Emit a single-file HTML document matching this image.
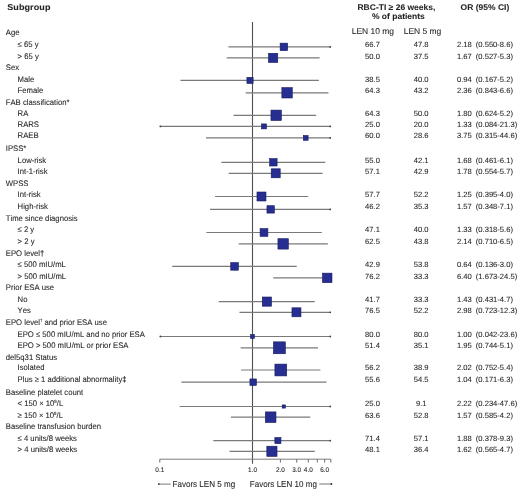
<!DOCTYPE html><html><head><meta charset="utf-8"><style>
html,body{margin:0;padding:0;background:#fff;}
svg{display:block;will-change:transform;}
text{text-rendering:geometricPrecision;font-kerning:none;font-family:"Liberation Sans",sans-serif;fill:#231f20;stroke:#231f20;stroke-width:0.08px;}
.l{font-size:7.7px;} .n{font-size:7.6px;} .h{font-size:8.5px;font-weight:bold;} .c{font-size:8.45px;} .t{font-size:6.4px;} .f{font-size:8.05px;} .sup{font-size:4.3px;} .dg{font-weight:bold;} .t{stroke-width:0.1px;}
</style></head><body>
<svg width="520" height="491" viewBox="0 0 520 491">
<text class="h" transform="translate(7.20 9.70) scale(1 0.95)" style="font-size:9px;letter-spacing:0.1px">Subgroup</text>
<text class="h" transform="translate(396.40 10.00) scale(1 0.97)" text-anchor="middle">RBC-TI ≥ 26 weeks,</text>
<text class="h" transform="translate(398.40 18.70) scale(1 0.97)" text-anchor="middle">% of patients</text>
<text class="h" transform="translate(484.90 10.40) scale(1 0.97)" text-anchor="middle">OR (95% CI)</text>
<text class="c" transform="translate(372.90 34.40) scale(1 1.0)" text-anchor="middle">LEN 10 mg</text>
<text class="c" transform="translate(422.50 34.40) scale(1 1.0)" text-anchor="middle">LEN 5 mg</text>
<line x1="252.5" y1="22" x2="252.5" y2="463.8" stroke="#505050" stroke-width="1.1"/>
<line x1="159.8" y1="459.2" x2="330.8405883093216" y2="459.2" stroke="#7c7c7c" stroke-width="1"/>
<line x1="159.80" y1="459.2" x2="159.80" y2="462.6" stroke="#6e6e6e" stroke-width="1"/>
<line x1="280.41" y1="459.2" x2="280.41" y2="462.6" stroke="#6e6e6e" stroke-width="1"/>
<line x1="296.73" y1="459.2" x2="296.73" y2="462.6" stroke="#6e6e6e" stroke-width="1"/>
<line x1="308.31" y1="459.2" x2="308.31" y2="462.6" stroke="#6e6e6e" stroke-width="1"/>
<line x1="317.29" y1="459.2" x2="317.29" y2="462.6" stroke="#6e6e6e" stroke-width="1"/>
<line x1="324.63" y1="459.2" x2="324.63" y2="462.6" stroke="#6e6e6e" stroke-width="1"/>
<line x1="330.84" y1="459.2" x2="330.84" y2="462.6" stroke="#6e6e6e" stroke-width="1"/>
<text class="t" transform="translate(159.80 471.90) scale(1 1.05)" text-anchor="middle">0.1</text>
<text class="t" transform="translate(252.50 471.90) scale(1 1.05)" text-anchor="middle">1.0</text>
<text class="t" transform="translate(280.41 471.90) scale(1 1.05)" text-anchor="middle">2.0</text>
<text class="t" transform="translate(296.73 471.90) scale(1 1.05)" text-anchor="middle">3.0</text>
<text class="t" transform="translate(308.31 471.90) scale(1 1.05)" text-anchor="middle">4.0</text>
<text class="t" transform="translate(324.63 471.90) scale(1 1.05)" text-anchor="middle">6.0</text>
<line x1="158.5" y1="484.1" x2="170.7" y2="484.1" stroke="#777" stroke-width="1"/>
<circle cx="158.8" cy="484.1" r="0.9" fill="#333"/>
<text class="f" transform="translate(172.50 486.90) scale(1 1.08)">Favors LEN 5 mg</text>
<text class="f" transform="translate(249.80 486.90) scale(1 1.08)">Favors LEN 10 mg</text>
<line x1="319.2" y1="484" x2="331.6" y2="484" stroke="#777" stroke-width="1"/>
<circle cx="331.4" cy="484" r="0.9" fill="#333"/>
<text class="l" transform="translate(5.80 35.10) scale(1 1.05)">Age</text>
<text class="l" transform="translate(17.60 46.60) scale(1 1.05)">≤ 65 y</text>
<line x1="228.43" y1="46.9" x2="330.84" y2="46.9" stroke="#7a7a7a" stroke-width="1.2"/>
<circle cx="330.24" cy="46.9" r="0.9" fill="#444"/>
<rect x="280.12" y="43.15" width="7.50" height="7.50" fill="#272e92" stroke="#171b5e" stroke-width="0.6"/>
<text class="n" transform="translate(372.50 46.60) scale(1 1.0)" text-anchor="middle">66.7</text>
<text class="n" transform="translate(421.20 46.60) scale(1 1.0)" text-anchor="middle">47.8</text>
<text class="n" transform="translate(457.00 46.60) scale(1 1.0)">2.18</text>
<text class="n" transform="translate(475.80 46.60) scale(1 1.0)">(0.550-8.6)</text>
<text class="l" transform="translate(17.60 58.50) scale(1 1.05)">&gt; 65 y</text>
<line x1="226.71" y1="57.9" x2="319.64" y2="57.9" stroke="#7a7a7a" stroke-width="1.2"/>
<rect x="268.55" y="53.30" width="9.20" height="9.20" fill="#272e92" stroke="#171b5e" stroke-width="0.6"/>
<text class="n" transform="translate(372.50 58.50) scale(1 1.0)" text-anchor="middle">50.0</text>
<text class="n" transform="translate(421.20 58.50) scale(1 1.0)" text-anchor="middle">37.5</text>
<text class="n" transform="translate(457.00 58.50) scale(1 1.0)">1.67</text>
<text class="n" transform="translate(475.80 58.50) scale(1 1.0)">(0.527-5.3)</text>
<text class="l" transform="translate(5.80 69.80) scale(1 1.05)">Sex</text>
<text class="l" transform="translate(17.60 81.60) scale(1 1.05)">Male</text>
<line x1="180.45" y1="80.4" x2="318.87" y2="80.4" stroke="#7a7a7a" stroke-width="1.2"/>
<rect x="246.91" y="77.30" width="6.20" height="6.20" fill="#272e92" stroke="#171b5e" stroke-width="0.6"/>
<text class="n" transform="translate(372.50 81.60) scale(1 1.0)" text-anchor="middle">38.5</text>
<text class="n" transform="translate(421.20 81.60) scale(1 1.0)" text-anchor="middle">40.0</text>
<text class="n" transform="translate(457.00 81.60) scale(1 1.0)">0.94</text>
<text class="n" transform="translate(475.80 81.60) scale(1 1.0)">(0.167-5.2)</text>
<text class="l" transform="translate(17.60 93.20) scale(1 1.05)">Female</text>
<line x1="245.62" y1="92.8" x2="328.47" y2="92.8" stroke="#7a7a7a" stroke-width="1.2"/>
<rect x="281.87" y="87.60" width="10.40" height="10.40" fill="#272e92" stroke="#171b5e" stroke-width="0.6"/>
<text class="n" transform="translate(372.50 93.20) scale(1 1.0)" text-anchor="middle">64.3</text>
<text class="n" transform="translate(421.20 93.20) scale(1 1.0)" text-anchor="middle">43.2</text>
<text class="n" transform="translate(457.00 93.20) scale(1 1.0)">2.36</text>
<text class="n" transform="translate(475.80 93.20) scale(1 1.0)">(0.843-6.6)</text>
<text class="l" transform="translate(5.80 104.60) scale(1 1.05)">FAB classification*</text>
<text class="l" transform="translate(17.60 116.20) scale(1 1.05)">RA</text>
<line x1="233.51" y1="115.3" x2="316.20" y2="115.3" stroke="#7a7a7a" stroke-width="1.2"/>
<rect x="270.96" y="110.10" width="10.40" height="10.40" fill="#272e92" stroke="#171b5e" stroke-width="0.6"/>
<text class="n" transform="translate(372.50 116.20) scale(1 1.0)" text-anchor="middle">64.3</text>
<text class="n" transform="translate(421.20 116.20) scale(1 1.0)" text-anchor="middle">50.0</text>
<text class="n" transform="translate(457.00 116.20) scale(1 1.0)">1.80</text>
<text class="n" transform="translate(475.80 116.20) scale(1 1.0)">(0.624-5.2)</text>
<text class="l" transform="translate(17.60 126.80) scale(1 1.05)">RARS</text>
<line x1="159.80" y1="126.4" x2="330.84" y2="126.4" stroke="#7a7a7a" stroke-width="1.2"/>
<circle cx="160.40" cy="126.4" r="0.9" fill="#444"/>
<circle cx="330.24" cy="126.4" r="0.9" fill="#444"/>
<rect x="261.48" y="123.90" width="5.00" height="5.00" fill="#272e92" stroke="#171b5e" stroke-width="0.6"/>
<text class="n" transform="translate(372.50 126.80) scale(1 1.0)" text-anchor="middle">25.0</text>
<text class="n" transform="translate(421.20 126.80) scale(1 1.0)" text-anchor="middle">20.0</text>
<text class="n" transform="translate(457.00 126.80) scale(1 1.0)">1.33</text>
<text class="n" transform="translate(475.80 126.80) scale(1 1.0)">(0.084-21.3)</text>
<text class="l" transform="translate(17.60 138.30) scale(1 1.05)">RAEB</text>
<line x1="205.99" y1="137.9" x2="330.84" y2="137.9" stroke="#7a7a7a" stroke-width="1.2"/>
<circle cx="330.24" cy="137.9" r="0.9" fill="#444"/>
<rect x="303.31" y="135.50" width="4.80" height="4.80" fill="#272e92" stroke="#171b5e" stroke-width="0.6"/>
<text class="n" transform="translate(372.50 138.30) scale(1 1.0)" text-anchor="middle">60.0</text>
<text class="n" transform="translate(421.20 138.30) scale(1 1.0)" text-anchor="middle">28.6</text>
<text class="n" transform="translate(457.00 138.30) scale(1 1.0)">3.75</text>
<text class="n" transform="translate(475.80 138.30) scale(1 1.0)">(0.315-44.6)</text>
<text class="l" transform="translate(5.80 151.30) scale(1 1.05)">IPSS*</text>
<text class="l" transform="translate(17.60 162.50) scale(1 1.05)">Low-risk</text>
<line x1="221.33" y1="162.3" x2="325.30" y2="162.3" stroke="#7a7a7a" stroke-width="1.2"/>
<rect x="269.69" y="158.60" width="7.40" height="7.40" fill="#272e92" stroke="#171b5e" stroke-width="0.6"/>
<text class="n" transform="translate(372.50 162.50) scale(1 1.0)" text-anchor="middle">55.0</text>
<text class="n" transform="translate(421.20 162.50) scale(1 1.0)" text-anchor="middle">42.1</text>
<text class="n" transform="translate(457.00 162.50) scale(1 1.0)">1.68</text>
<text class="n" transform="translate(475.80 162.50) scale(1 1.0)">(0.461-6.1)</text>
<text class="l" transform="translate(17.60 173.70) scale(1 1.05)">Int-1-risk</text>
<line x1="228.72" y1="173.3" x2="322.57" y2="173.3" stroke="#7a7a7a" stroke-width="1.2"/>
<rect x="271.21" y="168.80" width="9.00" height="9.00" fill="#272e92" stroke="#171b5e" stroke-width="0.6"/>
<text class="n" transform="translate(372.50 173.70) scale(1 1.0)" text-anchor="middle">57.1</text>
<text class="n" transform="translate(421.20 173.70) scale(1 1.0)" text-anchor="middle">42.9</text>
<text class="n" transform="translate(457.00 173.70) scale(1 1.0)">1.78</text>
<text class="n" transform="translate(475.80 173.70) scale(1 1.0)">(0.554-5.7)</text>
<text class="l" transform="translate(5.80 186.00) scale(1 1.05)">WPSS</text>
<text class="l" transform="translate(17.60 196.90) scale(1 1.05)">Int-risk</text>
<line x1="215.10" y1="196.5" x2="308.31" y2="196.5" stroke="#7a7a7a" stroke-width="1.2"/>
<rect x="256.98" y="192.00" width="9.00" height="9.00" fill="#272e92" stroke="#171b5e" stroke-width="0.6"/>
<text class="n" transform="translate(372.50 196.90) scale(1 1.0)" text-anchor="middle">57.7</text>
<text class="n" transform="translate(421.20 196.90) scale(1 1.0)" text-anchor="middle">52.2</text>
<text class="n" transform="translate(457.00 196.90) scale(1 1.0)">1.25</text>
<text class="n" transform="translate(475.80 196.90) scale(1 1.0)">(0.395-4.0)</text>
<text class="l" transform="translate(17.60 209.00) scale(1 1.05)">High-risk</text>
<line x1="210.00" y1="209.4" x2="330.84" y2="209.4" stroke="#7a7a7a" stroke-width="1.2"/>
<circle cx="330.24" cy="209.4" r="0.9" fill="#444"/>
<rect x="266.96" y="205.70" width="7.40" height="7.40" fill="#272e92" stroke="#171b5e" stroke-width="0.6"/>
<text class="n" transform="translate(372.50 209.00) scale(1 1.0)" text-anchor="middle">46.2</text>
<text class="n" transform="translate(421.20 209.00) scale(1 1.0)" text-anchor="middle">35.3</text>
<text class="n" transform="translate(457.00 209.00) scale(1 1.0)">1.57</text>
<text class="n" transform="translate(475.80 209.00) scale(1 1.0)">(0.348-7.1)</text>
<text class="l" transform="translate(5.80 220.60) scale(1 1.05)">Time since diagnosis</text>
<text class="l" transform="translate(17.60 232.20) scale(1 1.05)">≤ 2 y</text>
<line x1="206.37" y1="232.5" x2="321.86" y2="232.5" stroke="#7a7a7a" stroke-width="1.2"/>
<rect x="260.08" y="228.60" width="7.80" height="7.80" fill="#272e92" stroke="#171b5e" stroke-width="0.6"/>
<text class="n" transform="translate(372.50 232.20) scale(1 1.0)" text-anchor="middle">47.1</text>
<text class="n" transform="translate(421.20 232.20) scale(1 1.0)" text-anchor="middle">40.0</text>
<text class="n" transform="translate(457.00 232.20) scale(1 1.0)">1.33</text>
<text class="n" transform="translate(475.80 232.20) scale(1 1.0)">(0.318-5.6)</text>
<text class="l" transform="translate(17.60 243.50) scale(1 1.05)">&gt; 2 y</text>
<line x1="238.71" y1="243.9" x2="327.86" y2="243.9" stroke="#7a7a7a" stroke-width="1.2"/>
<rect x="277.93" y="238.70" width="10.40" height="10.40" fill="#272e92" stroke="#171b5e" stroke-width="0.6"/>
<text class="n" transform="translate(372.50 243.50) scale(1 1.0)" text-anchor="middle">62.5</text>
<text class="n" transform="translate(421.20 243.50) scale(1 1.0)" text-anchor="middle">43.8</text>
<text class="n" transform="translate(457.00 243.50) scale(1 1.0)">2.14</text>
<text class="n" transform="translate(475.80 243.50) scale(1 1.0)">(0.710-6.5)</text>
<text class="l" transform="translate(5.80 255.60) scale(1 1.05)">EPO level<tspan class='dg'>†</tspan></text>
<text class="l" transform="translate(17.60 267.20) scale(1 1.05)">≤ 500 mIU/mL</text>
<line x1="172.18" y1="266.4" x2="296.73" y2="266.4" stroke="#7a7a7a" stroke-width="1.2"/>
<rect x="230.73" y="262.60" width="7.60" height="7.60" fill="#272e92" stroke="#171b5e" stroke-width="0.6"/>
<text class="n" transform="translate(372.50 267.20) scale(1 1.0)" text-anchor="middle">42.9</text>
<text class="n" transform="translate(421.20 267.20) scale(1 1.0)" text-anchor="middle">53.8</text>
<text class="n" transform="translate(457.00 267.20) scale(1 1.0)">0.64</text>
<text class="n" transform="translate(475.80 267.20) scale(1 1.0)">(0.136-3.0)</text>
<text class="l" transform="translate(17.60 278.50) scale(1 1.05)">&gt; 500 mIU/mL</text>
<line x1="273.22" y1="277.9" x2="330.84" y2="277.9" stroke="#7a7a7a" stroke-width="1.2"/>
<circle cx="330.24" cy="277.9" r="0.9" fill="#444"/>
<rect x="322.48" y="273.15" width="9.50" height="9.50" fill="#272e92" stroke="#171b5e" stroke-width="0.6"/>
<text class="n" transform="translate(372.50 278.50) scale(1 1.0)" text-anchor="middle">76.2</text>
<text class="n" transform="translate(421.20 278.50) scale(1 1.0)" text-anchor="middle">33.3</text>
<text class="n" transform="translate(457.00 278.50) scale(1 1.0)">6.40</text>
<text class="n" transform="translate(475.80 278.50) scale(1 1.0)">(1.673-24.5)</text>
<text class="l" transform="translate(5.80 289.80) scale(1 1.05)">Prior ESA use</text>
<text class="l" transform="translate(17.60 301.70) scale(1 1.05)">No</text>
<line x1="218.62" y1="301.6" x2="314.80" y2="301.6" stroke="#7a7a7a" stroke-width="1.2"/>
<rect x="262.30" y="297.00" width="9.20" height="9.20" fill="#272e92" stroke="#171b5e" stroke-width="0.6"/>
<text class="n" transform="translate(372.50 301.70) scale(1 1.0)" text-anchor="middle">41.7</text>
<text class="n" transform="translate(421.20 301.70) scale(1 1.0)" text-anchor="middle">33.3</text>
<text class="n" transform="translate(457.00 301.70) scale(1 1.0)">1.43</text>
<text class="n" transform="translate(475.80 301.70) scale(1 1.0)">(0.431-4.7)</text>
<text class="l" transform="translate(17.60 312.90) scale(1 1.05)">Yes</text>
<line x1="239.44" y1="312.3" x2="330.84" y2="312.3" stroke="#7a7a7a" stroke-width="1.2"/>
<circle cx="330.24" cy="312.3" r="0.9" fill="#444"/>
<rect x="291.96" y="307.80" width="9.00" height="9.00" fill="#272e92" stroke="#171b5e" stroke-width="0.6"/>
<text class="n" transform="translate(372.50 312.90) scale(1 1.0)" text-anchor="middle">76.5</text>
<text class="n" transform="translate(421.20 312.90) scale(1 1.0)" text-anchor="middle">52.2</text>
<text class="n" transform="translate(457.00 312.90) scale(1 1.0)">2.98</text>
<text class="n" transform="translate(475.80 312.90) scale(1 1.0)">(0.723-12.3)</text>
<text class="l" transform="translate(5.80 324.80) scale(1 1.05)">EPO level<tspan class='sup' dy='-2.5'>†</tspan><tspan dy='2.5'> and prior ESA use</tspan></text>
<text class="l" transform="translate(17.60 336.90) scale(1 1.05)">EPO ≤ 500 mIU/mL and no prior ESA</text>
<line x1="159.80" y1="336.5" x2="330.84" y2="336.5" stroke="#7a7a7a" stroke-width="1.2"/>
<circle cx="160.40" cy="336.5" r="0.9" fill="#444"/>
<circle cx="330.24" cy="336.5" r="0.9" fill="#444"/>
<rect x="250.60" y="334.60" width="3.80" height="3.80" fill="#272e92" stroke="#171b5e" stroke-width="0.6"/>
<text class="n" transform="translate(372.50 336.90) scale(1 1.0)" text-anchor="middle">80.0</text>
<text class="n" transform="translate(421.20 336.90) scale(1 1.0)" text-anchor="middle">80.0</text>
<text class="n" transform="translate(457.00 336.90) scale(1 1.0)">1.00</text>
<text class="n" transform="translate(475.80 336.90) scale(1 1.0)">(0.042-23.6)</text>
<text class="l" transform="translate(17.60 347.90) scale(1 1.05)">EPO &gt; 500 mIU/mL or prior ESA</text>
<line x1="240.59" y1="347.8" x2="318.09" y2="347.8" stroke="#7a7a7a" stroke-width="1.2"/>
<rect x="273.44" y="341.85" width="11.90" height="11.90" fill="#272e92" stroke="#171b5e" stroke-width="0.6"/>
<text class="n" transform="translate(372.50 347.90) scale(1 1.0)" text-anchor="middle">51.4</text>
<text class="n" transform="translate(421.20 347.90) scale(1 1.0)" text-anchor="middle">35.1</text>
<text class="n" transform="translate(457.00 347.90) scale(1 1.0)">1.95</text>
<text class="n" transform="translate(475.80 347.90) scale(1 1.0)">(0.744-5.1)</text>
<text class="l" transform="translate(5.80 359.50) scale(1 1.05)">del5q31 Status</text>
<text class="l" transform="translate(17.60 370.20) scale(1 1.05)">Isolated</text>
<line x1="241.03" y1="370.0" x2="320.39" y2="370.0" stroke="#7a7a7a" stroke-width="1.2"/>
<rect x="274.91" y="364.10" width="11.80" height="11.80" fill="#272e92" stroke="#171b5e" stroke-width="0.6"/>
<text class="n" transform="translate(372.50 370.20) scale(1 1.0)" text-anchor="middle">56.2</text>
<text class="n" transform="translate(421.20 370.20) scale(1 1.0)" text-anchor="middle">38.9</text>
<text class="n" transform="translate(457.00 370.20) scale(1 1.0)">2.02</text>
<text class="n" transform="translate(475.80 370.20) scale(1 1.0)">(0.752-5.4)</text>
<text class="l" transform="translate(17.60 382.10) scale(1 1.05)">Plus ≥ 1 additional abnormality<tspan class='dg'>‡</tspan></text>
<line x1="181.40" y1="382.2" x2="326.60" y2="382.2" stroke="#7a7a7a" stroke-width="1.2"/>
<rect x="249.93" y="378.95" width="6.50" height="6.50" fill="#272e92" stroke="#171b5e" stroke-width="0.6"/>
<text class="n" transform="translate(372.50 382.10) scale(1 1.0)" text-anchor="middle">55.6</text>
<text class="n" transform="translate(421.20 382.10) scale(1 1.0)" text-anchor="middle">54.5</text>
<text class="n" transform="translate(457.00 382.10) scale(1 1.0)">1.04</text>
<text class="n" transform="translate(475.80 382.10) scale(1 1.0)">(0.171-6.3)</text>
<text class="l" transform="translate(5.80 394.50) scale(1 1.05)">Baseline platelet count</text>
<text class="l" transform="translate(17.60 406.30) scale(1 1.05)">&lt; 150 × 10<tspan class='sup' dy='-2.8'>9</tspan><tspan dy='2.8'>/L</tspan></text>
<line x1="179.60" y1="406.5" x2="330.84" y2="406.5" stroke="#7a7a7a" stroke-width="1.2"/>
<circle cx="330.24" cy="406.5" r="0.9" fill="#444"/>
<rect x="282.21" y="404.90" width="3.20" height="3.20" fill="#272e92" stroke="#171b5e" stroke-width="0.6"/>
<text class="n" transform="translate(372.50 406.30) scale(1 1.0)" text-anchor="middle">25.0</text>
<text class="n" transform="translate(421.20 406.30) scale(1 1.0)" text-anchor="middle">9.1</text>
<text class="n" transform="translate(457.00 406.30) scale(1 1.0)">2.22</text>
<text class="n" transform="translate(475.80 406.30) scale(1 1.0)">(0.234-47.6)</text>
<text class="l" transform="translate(17.60 417.50) scale(1 1.05)">≥ 150 × 10<tspan class='sup' dy='-2.8'>9</tspan><tspan dy='2.8'>/L</tspan></text>
<line x1="230.92" y1="417.2" x2="310.28" y2="417.2" stroke="#7a7a7a" stroke-width="1.2"/>
<rect x="265.36" y="411.90" width="10.60" height="10.60" fill="#272e92" stroke="#171b5e" stroke-width="0.6"/>
<text class="n" transform="translate(372.50 417.50) scale(1 1.0)" text-anchor="middle">63.6</text>
<text class="n" transform="translate(421.20 417.50) scale(1 1.0)" text-anchor="middle">52.8</text>
<text class="n" transform="translate(457.00 417.50) scale(1 1.0)">1.57</text>
<text class="n" transform="translate(475.80 417.50) scale(1 1.0)">(0.585-4.2)</text>
<text class="l" transform="translate(5.80 429.20) scale(1 1.05)">Baseline transfusion burden</text>
<text class="l" transform="translate(17.60 441.00) scale(1 1.05)">≤ 4 units/8 weeks</text>
<line x1="213.33" y1="440.6" x2="330.84" y2="440.6" stroke="#7a7a7a" stroke-width="1.2"/>
<circle cx="330.24" cy="440.6" r="0.9" fill="#444"/>
<rect x="274.86" y="437.55" width="6.10" height="6.10" fill="#272e92" stroke="#171b5e" stroke-width="0.6"/>
<text class="n" transform="translate(372.50 441.00) scale(1 1.0)" text-anchor="middle">71.4</text>
<text class="n" transform="translate(421.20 441.00) scale(1 1.0)" text-anchor="middle">57.1</text>
<text class="n" transform="translate(457.00 441.00) scale(1 1.0)">1.88</text>
<text class="n" transform="translate(475.80 441.00) scale(1 1.0)">(0.378-9.3)</text>
<text class="l" transform="translate(17.60 451.70) scale(1 1.05)">&gt; 4 units/8 weeks</text>
<line x1="229.51" y1="451.3" x2="314.80" y2="451.3" stroke="#7a7a7a" stroke-width="1.2"/>
<rect x="266.82" y="446.20" width="10.20" height="10.20" fill="#272e92" stroke="#171b5e" stroke-width="0.6"/>
<text class="n" transform="translate(372.50 451.70) scale(1 1.0)" text-anchor="middle">48.1</text>
<text class="n" transform="translate(421.20 451.70) scale(1 1.0)" text-anchor="middle">36.4</text>
<text class="n" transform="translate(457.00 451.70) scale(1 1.0)">1.62</text>
<text class="n" transform="translate(475.80 451.70) scale(1 1.0)">(0.565-4.7)</text>
</svg></body></html>
